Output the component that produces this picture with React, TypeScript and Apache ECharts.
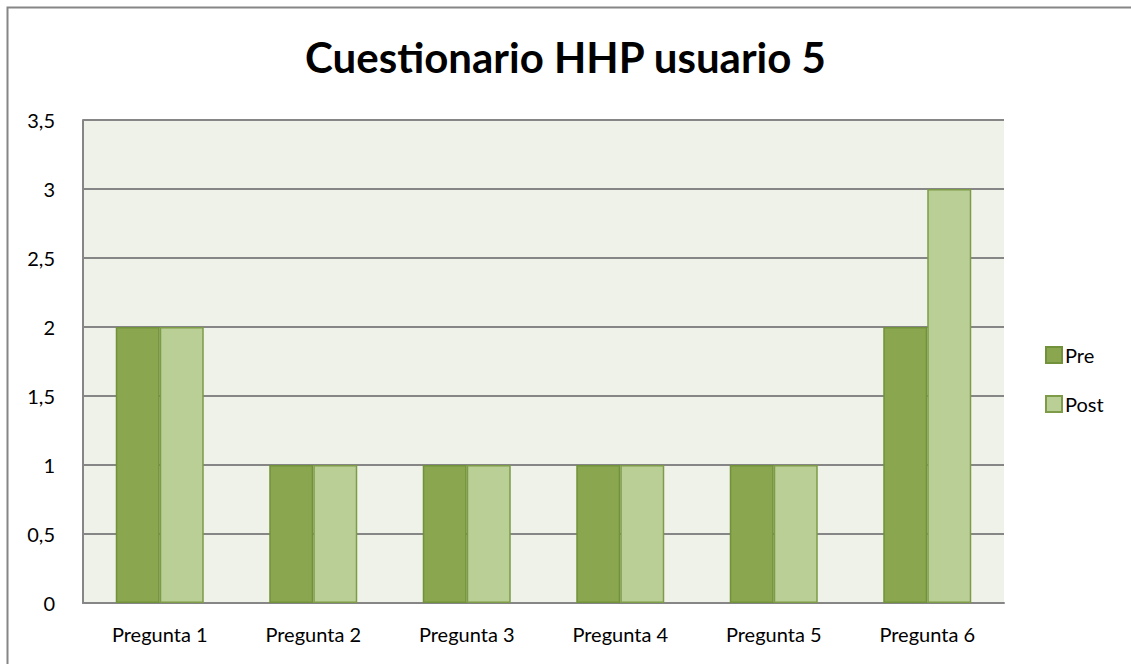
import React, { useEffect, useRef } from "react";
import * as echarts from "echarts";

const categories = ["Pregunta 1", "Pregunta 2", "Pregunta 3", "Pregunta 4", "Pregunta 5", "Pregunta 6"];
const preValues = [2, 1, 1, 1, 1, 2];
const postValues = [2, 1, 1, 1, 1, 3];
const titleText = "Cuestionario HHP usuario 5";

export default function App() {
  const ref = useRef<HTMLDivElement>(null);
  useEffect(() => {
    if (!ref.current) return;
    const chart = echarts.init(ref.current, null, { renderer: "svg" });
    const font = "Lato, Carlito, Calibri, sans-serif";
    chart.setOption({
      animation: false,
      backgroundColor: "#ffffff",
      textStyle: { fontFamily: font },
      title: {
        text: titleText,
        left: "center",
        top: 31,
        textStyle: { fontFamily: font, fontSize: 42, fontWeight: "bold", color: "#000" },
      },
      graphic: [
        {
          type: "rect",
          shape: { x: 7.5, y: 7.5, width: 1200, height: 800 },
          style: { fill: "none", stroke: "#868686", lineWidth: 2 },
          silent: true,
        },
      ],
      legend: {
        orient: "vertical",
        left: 1040,
        top: 340,
        itemWidth: 16,
        itemHeight: 16,
        itemGap: 29,
        icon: "rect",
        textStyle: { fontFamily: font, fontSize: 20, color: "#000", padding: [0, 0, 0, -2] },
        data: ["Pre", "Post"],
      },
      grid: { left: 83, right: 1131 - 1004, top: 120, bottom: 664 - 603, containLabel: false },
      xAxis: {
        type: "category",
        data: categories,
        axisLine: { show: true, lineStyle: { color: "#868686", width: 2 } },
        axisTick: { show: false },
        axisLabel: { fontFamily: font, fontSize: 20, color: "#000", margin: 21 },
        splitArea: { show: false },
      },
      yAxis: {
        type: "value",
        min: 0,
        max: 3.5,
        interval: 0.5,
        axisLine: { show: true, lineStyle: { color: "#868686", width: 2 } },
        axisTick: { show: false },
        axisLabel: {
          fontFamily: font,
          fontSize: 20,
          color: "#000",
          margin: 28,
          formatter: (v: number) => String(v).replace(".", ","),
        },
        splitLine: { show: true, lineStyle: { color: "#868686", width: 2 } },
        splitArea: { show: true, areaStyle: { color: ["#EFF2E9", "#EFF2E9"] } },
      },
      series: [
        {
          name: "Pre",
          type: "bar",
          data: preValues,
          barWidth: 44,
          barGap: "0%",
          itemStyle: { color: "#8AA64F", borderColor: "#71913A", borderWidth: 1.5 },
        },
        {
          name: "Post",
          type: "bar",
          data: postValues,
          barWidth: 44,
          barGap: "0%",
          itemStyle: { color: "#BACF96", borderColor: "#7E9C47", borderWidth: 1.5 },
        },
      ],
    });
    return () => chart.dispose();
  }, []);
  return (
    <div
      ref={ref}
      style={{ position: "fixed", left: 0, top: 0, width: 1131, height: 664 }}
    />
  );
}
